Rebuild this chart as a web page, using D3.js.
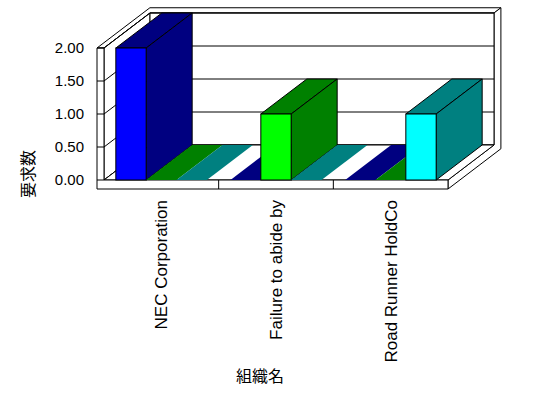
<!DOCTYPE html>
<html>
<head>
<meta charset="utf-8">
<script src="https://cdn.jsdelivr.net/npm/d3@7"></script>
<style>
  body { margin: 0; background: #fff; }
  svg text { font-family: "Liberation Sans", Arial, sans-serif; fill: #000; }
  .cjk { font-family: "Noto Sans CJK JP", sans-serif; }
</style>
</head>
<body>
<svg id="chart" width="548" height="398"></svg>
<script>
// data
const categories = ["NEC Corporation", "Failure to abide by", "Road Runner HoldCo"];
const seriesNames = ["s1", "s2", "s3"];
const s1 = [2, 0, 0];
const s2 = [0, 1, 0];
const s3 = [0, 0, 1];
const yTicks = [0, 0.5, 1, 1.5, 2];
const frontColors = ["#0000ff", "#00ff00", "#00ffff"];
const darkColors = ["#000080", "#008000", "#008080"];

const seriesValues = [s1, s2, s3];

const svg = d3.select("#chart");

// plot frame (front plane)
const pLeft = 104, pRight = 448, pTop = 48, pBottom = 180;
const wallW = 7, floorH = 9;
const depthX = 46, depthY = -35;   // full plot depth offset
const backE = 0.15;                  // back wall thickness, as a depth fraction

const x = d3.scaleBand().domain(categories).range([pLeft, pRight]);
const x1 = d3.scaleBand().domain(seriesNames).range([0, x.bandwidth()]).paddingOuter(0.39);
const y = d3.scaleLinear().domain([0, 2]).range([pBottom, pTop]);

// project a front-plane point back by depth fraction z
const P = (px, py, z) => [px + z * depthX, py + z * depthY];
const poly = pts => "M" + pts.map(p => p.join(",")).join("L") + "Z";

const walls = svg.append("g")
    .attr("stroke", "#000")
    .attr("stroke-width", 1)
    .attr("fill", "#fff");

// top edges of left + back wall
walls.append("path").attr("d", poly([
    P(pLeft - wallW, pTop, 0), P(pLeft, pTop, 0), P(pLeft, pTop, 1),
    P(pRight, pTop, 1), P(pRight, pTop, 1 + backE), P(pLeft - wallW, pTop, 1 + backE)
]));

// right side of floor slab + back wall
walls.append("path").attr("d", poly([
    P(pRight, pBottom, 0), P(pRight, pBottom + floorH, 0), P(pRight, pBottom + floorH, 1 + backE),
    P(pRight, pTop, 1 + backE), P(pRight, pTop, 1), P(pRight, pBottom, 1)
]));

// left wall inner face
walls.append("path").attr("d", poly([
    P(pLeft, pBottom, 0), P(pLeft, pTop, 0), P(pLeft, pTop, 1), P(pLeft, pBottom, 1)
]));

// back wall inner face
walls.append("path").attr("d", poly([
    P(pLeft, pTop, 1), P(pRight, pTop, 1), P(pRight, pBottom, 1), P(pLeft, pBottom, 1)
]));

// grid on left and back walls
walls.selectAll(".gl")
    .data(yTicks)
    .join("path")
    .attr("class", "gl")
    .attr("fill", "none")
    .attr("d", d => "M" + P(pLeft, y(d), 0) + "L" + P(pLeft, y(d), 1) + "L" + P(pRight, y(d), 1));

// floor top face
walls.append("path").attr("d", poly([
    P(pLeft, pBottom, 0), P(pRight, pBottom, 0), P(pRight, pBottom, 1), P(pLeft, pBottom, 1)
]));

// front faces of left wall and floor slab
walls.append("path").attr("d", poly([
    [pLeft - wallW, pTop], [pLeft, pTop], [pLeft, pBottom], [pRight, pBottom],
    [pRight, pBottom + floorH], [pLeft - wallW, pBottom + floorH]
]));

// tick marks across the left wall front
walls.selectAll(".tk")
    .data(yTicks)
    .join("line")
    .attr("class", "tk")
    .attr("x1", pLeft - wallW).attr("x2", pLeft)
    .attr("y1", d => y(d)).attr("y2", d => y(d));

// category separators on floor front
walls.selectAll(".sep")
    .data(categories.slice(1))
    .join("line")
    .attr("class", "sep")
    .attr("x1", d => x(d)).attr("x2", d => x(d))
    .attr("y1", pBottom).attr("y2", pBottom + floorH);

// bars, left to right so the painting order works
const bars = [];
categories.forEach((c, ci) => {
    seriesNames.forEach((s, si) => {
        bars.push({ cat: c, ser: s, si: si, v: seriesValues[si][ci] });
    });
});

const barG = svg.append("g");
bars.forEach(b => {
    const x0 = x(b.cat) + x1(b.ser);
    const xr = x0 + x1.bandwidth();
    const yt = y(b.v);
    const g = barG.append("g");
    if (b.v === 0) {
        g.append("path")
            .attr("fill", darkColors[b.si])
            .attr("d", poly([P(x0, pBottom, 0), P(xr, pBottom, 0), P(xr, pBottom, 1), P(x0, pBottom, 1)]));
        return;
    }
    g.attr("stroke", "#000").attr("stroke-width", 1);
    // top
    g.append("path")
        .attr("fill", darkColors[b.si])
        .attr("d", poly([P(x0, yt, 0), P(xr, yt, 0), P(xr, yt, 1), P(x0, yt, 1)]));
    // side
    g.append("path")
        .attr("fill", darkColors[b.si])
        .attr("d", poly([P(xr, pBottom, 0), P(xr, yt, 0), P(xr, yt, 1), P(xr, pBottom, 1)]));
    // front
    g.append("rect")
        .attr("x", x0).attr("y", yt)
        .attr("width", x1.bandwidth()).attr("height", pBottom - yt)
        .attr("fill", frontColors[b.si]);
});

// y tick labels
svg.append("g")
    .selectAll("text")
    .data(yTicks)
    .join("text")
    .attr("x", 84)
    .attr("y", d => y(d))
    .attr("dy", "0.36em")
    .attr("text-anchor", "end")
    .attr("font-size", 15)
    .text(d3.format(".2f"));

// category labels
svg.append("g")
    .selectAll("text")
    .data(categories)
    .join("text")
    .attr("transform", d => `translate(${x(d) + x.bandwidth() / 2},200) rotate(-90)`)
    .attr("dy", "0.36em")
    .attr("text-anchor", "end")
    .attr("font-size", 17)
    .text(d => d);

// axis titles
svg.append("text")
    .attr("class", "cjk")
    .attr("transform", "translate(28,174) rotate(-90)")
    .attr("dy", "0.36em")
    .attr("text-anchor", "middle")
    .attr("font-size", 16)
    .text("要求数");

svg.append("text")
    .attr("class", "cjk")
    .attr("x", 260)
    .attr("y", 376)
    .attr("dy", "0.36em")
    .attr("text-anchor", "middle")
    .attr("font-size", 16)
    .text("組織名");
</script>
</body>
</html>
